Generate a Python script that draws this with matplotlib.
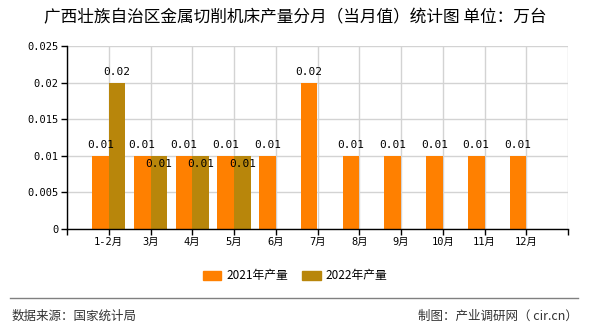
import matplotlib
matplotlib.use("Agg")
import matplotlib.pyplot as plt
from matplotlib.patches import Patch
from matplotlib.lines import Line2D

plt.rcParams['font.family'] = ['DejaVu Sans Mono', 'Noto Sans CJK SC']

categories = ['1-2月', '3月', '4月', '5月', '6月', '7月', '8月', '9月', '10月', '11月', '12月']
values_2021 = [0.01, 0.01, 0.01, 0.01, 0.01, 0.02, 0.01, 0.01, 0.01, 0.01, 0.01]
values_2022 = [0.02, 0.01, 0.01, 0.01, None, None, None, None, None, None, None]
series_names = ['2021年产量', '2022年产量']
yticks = [0, 0.005, 0.01, 0.015, 0.02, 0.025]
ytick_labels = ['0', '0.005', '0.01', '0.015', '0.02', '0.025']
title = '广西壮族自治区金属切削机床产量分月（当月值）统计图 单位：万台'
source = '数据来源：国家统计局'
credit = '制图：产业调研网（ cir.cn）'

c21 = '#FF8000'
c22 = '#B8860B'
cjk = ['Noto Sans CJK SC', 'DejaVu Sans']

W, H = 590, 330
fig = plt.figure(figsize=(W / 100, H / 100), dpi=100)
ax = fig.add_axes([67 / W, 1 - 229 / H, (568 - 67) / W, (229 - 46) / H])

x = list(range(len(categories)))
bw = 0.4
ax.bar([i - bw / 2 for i in x], values_2021, width=bw, color=c21, zorder=3)
x22 = [i for i, v in zip(x, values_2022) if v is not None]
v22 = [v for v in values_2022 if v is not None]
ax.bar([i + bw / 2 for i in x22], v22, width=bw, color=c22, zorder=3)

for i, v in zip(x, values_2021):
    ax.annotate(f'{v:g}', (i - bw / 2, v), xytext=(0, 4), textcoords='offset points',
                ha='center', va='bottom', fontsize=8, zorder=5)
for i, v in zip(x22, v22):
    if v >= 0.015:
        ax.annotate(f'{v:g}', (i + bw / 2, v), xytext=(0, 4), textcoords='offset points',
                    ha='center', va='bottom', fontsize=8, zorder=5)
    else:
        ax.annotate(f'{v:g}', (i + bw / 2, v), xytext=(0, -2), textcoords='offset points',
                    ha='center', va='top', fontsize=8, zorder=5)

ax.set_xlim(-1, 11)
ax.set_ylim(0, 0.025)
ax.set_xticks(list(range(-1, 12)))
ax.set_xticklabels([''] + categories + [''], fontsize=7.5)
ax.set_yticks(yticks)
ax.set_yticklabels(ytick_labels, fontsize=7.5)
ax.tick_params(axis='both', length=4, width=1, color='black', pad=2)
ax.grid(True, color='#d3d3d3', linewidth=1, zorder=0)
ax.set_axisbelow(True)
for s in ['top', 'right']:
    ax.spines[s].set_visible(False)
for s in ['left', 'bottom']:
    ax.spines[s].set_color('black')
    ax.spines[s].set_linewidth(1)
    ax.spines[s].set_zorder(4)

fig.text(0.5, 1 - 18 / H, title, ha='center', va='center', fontsize=12, family=cjk)

handles = [Patch(color=c21), Patch(color=c22)]
fig.legend(handles, series_names, loc='center', bbox_to_anchor=(295 / W, 1 - 276 / H),
           ncol=2, frameon=False, handlelength=1.6, handleheight=0.7,
           columnspacing=1.2, handletextpad=0.4, prop={'family': cjk, 'size': 8.5})

fig.add_artist(Line2D([10 / W, 578 / W], [1 - 298 / H, 1 - 298 / H], color='#808080', linewidth=1,
                      transform=fig.transFigure))
fig.text(12 / W, 1 - 316 / H, source, ha='left', va='center', fontsize=9, color='#333333', family=cjk)
fig.text(578 / W, 1 - 316 / H, credit, ha='right', va='center', fontsize=9, color='#333333', family=cjk)

fig.savefig('out.png', dpi=100)
